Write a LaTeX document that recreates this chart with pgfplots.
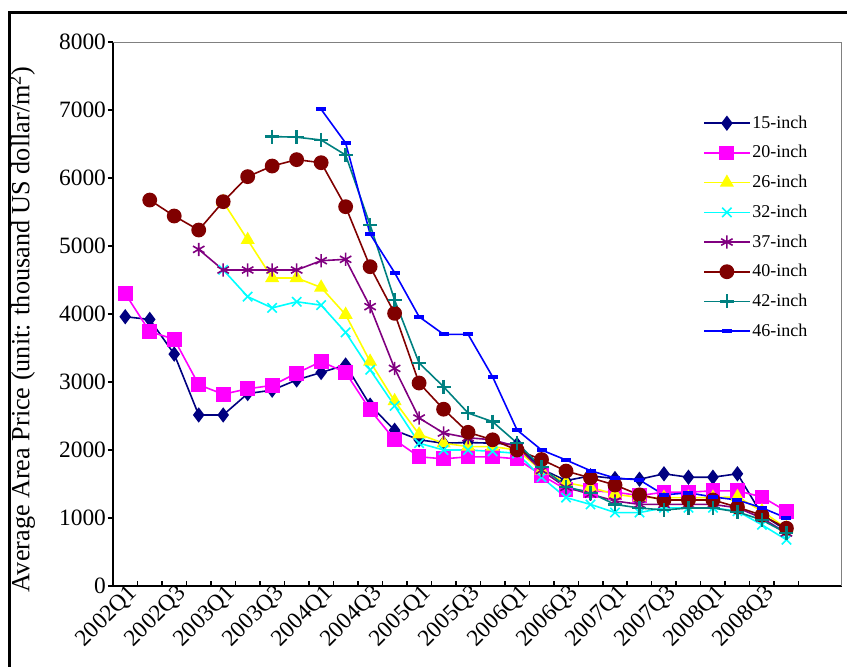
\documentclass[border=0pt]{standalone}
\usepackage{pgfplots}
\pgfplotsset{compat=1.18}
\usepackage{fontspec}
\setmainfont{Liberation Serif}
\definecolor{c15}{RGB}{0,0,128}
\definecolor{c20}{RGB}{255,0,255}
\definecolor{c26}{RGB}{255,255,0}
\definecolor{c32}{RGB}{0,255,255}
\definecolor{c37}{RGB}{128,0,128}
\definecolor{c40}{RGB}{128,0,0}
\definecolor{c42}{RGB}{0,128,128}
\definecolor{c46}{RGB}{0,0,255}
\begin{document}
\begin{tikzpicture}
\useasboundingbox (-56.5pt,-40pt) rectangle (367pt,293pt);
\draw[black,line width=1.5pt] (-51.5pt,-60pt) -- (-51.5pt,286.5pt) -- (400pt,286.5pt);
\begin{axis}[
  at={(0pt,0pt)}, anchor=south west,
  scale only axis, width=364.5pt, height=272pt,
  xmin=-0.5, xmax=29.27, ymin=0, ymax=8000,
  axis x line*=bottom, axis y line*=left,
  axis line style={line width=0.75pt, black},
  xtick={0.5,2.5,...,26.5},
  minor xtick={1.5,3.5,...,28.5},
  xticklabels={2002Q1,2002Q3,2003Q1,2003Q3,2004Q1,2004Q3,2005Q1,2005Q3,2006Q1,2006Q3,2007Q1,2007Q3,2008Q1,2008Q3},
  ytick={0,1000,...,8000},
  tick align=inside, major tick length=2.5pt, minor tick length=2.5pt,
  tick style={black, line width=0.75pt},
  y tick style={xshift=-2.5pt},
  /pgf/number format/assume math mode=true,
  /pgf/number format/1000 sep={},
  yticklabel style={font=\fontsize{11.7}{13}\selectfont},
  xticklabel style={rotate=45, anchor=east, font=\fontsize{11.7}{12}\selectfont, inner sep=2.5pt},
  ylabel={Average Area Price (unit: thousand US dollar/m\textsuperscript{2})},
  ylabel style={at={(axis description cs:-0.125,0.472)}, anchor=center, font=\fontsize{13.1}{14}\selectfont},
  every axis plot/.append style={line width=0.8pt},
  legend style={at={(axis description cs:0.801,0.879)}, anchor=north west, draw=none, fill=none,
    font=\fontsize{9}{10}\selectfont, row sep=3.85pt,
    nodes={inner sep=1pt, text height=7pt, text depth=2pt}},
  legend cell align=left,
  legend image code/.code={\draw[mark repeat=2,mark phase=2] plot coordinates {(0cm,0cm) (0.4cm,0cm) (0.8cm,0cm)};},
]
\addplot[c15, mark=diamond*, mark size=3.2pt, mark options={fill=c15}] coordinates {
(0,3960)(1,3920)(2,3410)(3,2515)(4,2515)(5,2830)(6,2880)(7,3030)(8,3140)(9,3250)
(10,2660)(11,2290)(12,2150)(13,2100)(14,2110)(15,2100)(16,2080)(17,1720)(18,1550)(19,1620)
(20,1580)(21,1570)(22,1650)(23,1600)(24,1600)(25,1650)(26,1050)(27,820)};
\addlegendentry{15-inch}
\addplot[c20, mark=square*, mark size=3.3pt, mark options={fill=c20}] coordinates {
(0,4300)(1,3740)(2,3630)(3,2960)(4,2820)(5,2900)(6,2950)(7,3130)(8,3300)(9,3140)
(10,2590)(11,2150)(12,1900)(13,1870)(14,1900)(15,1900)(16,1870)(17,1630)(18,1420)(19,1400)
(20,1380)(21,1330)(22,1380)(23,1380)(24,1400)(25,1400)(26,1310)(27,1100)};
\addlegendentry{20-inch}
\addplot[c26, mark=triangle*, mark size=3.3pt, mark options={fill=c26}] coordinates {
(4,5650)(5,5090)(6,4530)(7,4530)(8,4390)(9,3990)(10,3300)(11,2720)(12,2230)(13,2100)
(14,2050)(15,2050)(16,2000)(17,1700)(18,1520)(19,1450)(20,1350)(21,1300)(22,1300)(23,1300)
(24,1300)(25,1310)(26,1100)(27,850)};
\addlegendentry{26-inch}
\addplot[c32, mark=x, mark size=3.3pt] coordinates {
(4,4650)(5,4255)(6,4090)(7,4180)(8,4130)(9,3730)(10,3180)(11,2650)(12,2100)(13,2000)
(14,2000)(15,1980)(16,1950)(17,1600)(18,1300)(19,1200)(20,1080)(21,1080)(22,1150)(23,1150)
(24,1150)(25,1100)(26,900)(27,680)};
\addlegendentry{32-inch}
\addplot[c37, mark=asterisk, mark size=3.3pt] coordinates {
(3,4950)(4,4647)(5,4647)(6,4647)(7,4647)(8,4784)(9,4804)(10,4108)(11,3200)(12,2470)
(13,2250)(14,2180)(15,2150)(16,2050)(17,1700)(18,1450)(19,1350)(20,1250)(21,1200)(22,1200)
(23,1200)(24,1200)(25,1150)(26,1000)(27,780)};
\addlegendentry{37-inch}
\addplot[c40, mark=*, mark size=3.3pt, mark options={fill=c40}] coordinates {
(1,5676)(2,5441)(3,5235)(4,5652)(5,6020)(6,6176)(7,6270)(8,6225)(9,5578)(10,4696)
(11,4010)(12,2985)(13,2600)(14,2260)(15,2150)(16,2000)(17,1860)(18,1690)(19,1590)(20,1485)
(21,1340)(22,1265)(23,1265)(24,1265)(25,1160)(26,1040)(27,850)};
\addlegendentry{40-inch}
\addplot[c42, mark=+, mark size=3.5pt, mark options={line width=1.2pt}] coordinates {
(6,6610)(7,6600)(8,6559)(9,6338)(10,5309)(11,4206)(12,3280)(13,2930)(14,2544)(15,2417)
(16,2103)(17,1750)(18,1460)(19,1370)(20,1200)(21,1147)(22,1118)(23,1147)(24,1147)(25,1090)
(26,970)(27,780)};
\addlegendentry{42-inch}
\addplot[c46, mark=-, mark size=2.5pt, mark options={line width=2pt}] coordinates {
(8,7010)(9,6515)(10,5176)(11,4608)(12,3960)(13,3701)(14,3701)(15,3078)(16,2294)(17,2000)
(18,1853)(19,1696)(20,1588)(21,1560)(22,1340)(23,1370)(24,1310)(25,1265)(26,1150)(27,1000)};
\addlegendentry{46-inch}
\draw[gray, line width=1pt] (rel axis cs:0,1) -- (rel axis cs:1,1) -- (rel axis cs:1,0);
\end{axis}
\end{tikzpicture}
\end{document}
